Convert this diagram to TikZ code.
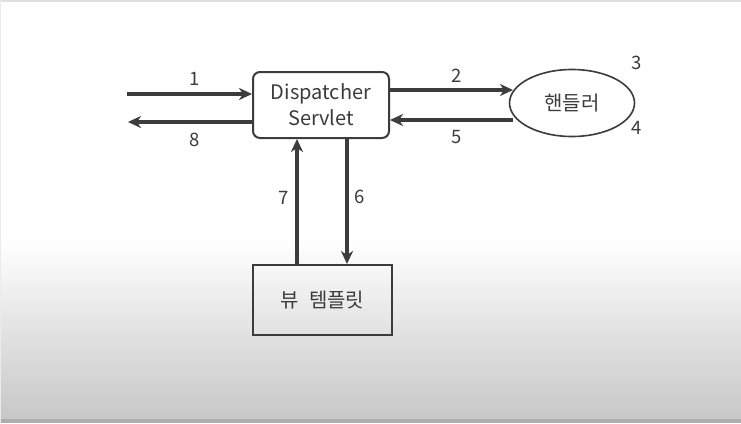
\documentclass[tikz,border=0pt]{standalone}
\usepackage{fontspec}
\setmainfont{Noto Sans CJK KR}
\usetikzlibrary{arrows.meta,shapes.geometric}
\definecolor{ink}{HTML}{3c3c3c}
\tikzset{
  flow/.style={line width=3.2pt, draw=ink, -{Stealth[length=13pt,width=12pt,inset=4pt]}},
  lbl/.style={font=\fontsize{18.5}{20}\selectfont, text=ink, inner sep=0pt},
  boxstyle/.style={draw=ink, line width=2pt, font=\fontsize{20}{23}\selectfont, text=ink, align=center, inner sep=0pt}
}
\begin{document}
\begin{tikzpicture}[x=1pt,y=-1pt]
\useasboundingbox (0,0) rectangle (741,423);
\fill[white] (0,0) rectangle (741,240);
\shade[top color=white, bottom color=black!22] (0,239.5) rectangle (741,420);
\fill[black!12] (0,0) rectangle (741,2);
\fill[black!32] (0,419) rectangle (741,423);
\fill[black!8] (0,0) rectangle (1,423);

\node[boxstyle, rounded corners=7pt, minimum width=136pt, minimum height=66pt] (ds) at (321,105) {Dispatcher\\[3pt]Servlet};
\node[boxstyle, ellipse, line width=1.6pt, minimum width=125pt, minimum height=67pt] (h) at (572,103) {핸들러};
\node[boxstyle, minimum width=139pt, minimum height=70pt] (v) at (322.5,300) {뷰\hspace{0.5em}템플릿};

\coordinate (in1) at (127,94);
\coordinate (out8) at (128,122);

\draw[flow] (in1) -- (ds.west |- in1);
\draw[flow] (ds.west |- out8) -- (out8);
\draw[flow] (ds.east |- 0,90) -- (513,90);
\draw[flow] (513,120) -- (ds.east |- 0,120);
\draw[flow] (v.north -| 297,0) -- (ds.south -| 297,0);
\draw[flow] (ds.south -| 347,0) -- (v.north -| 347,0);

\node[lbl] (l1) at (195,79) {1};
\node[lbl] (l8) at (195,140) {8};
\node[lbl] (l2) at (457,76) {2};
\node[lbl] (l5) at (457,137) {5};
\node[lbl] (l3) at (637,63) {3};
\node[lbl] (l4) at (637,128) {4};
\node[lbl] (l7) at (284,198) {7};
\node[lbl] (l6) at (360,197) {6};
\end{tikzpicture}
\end{document}
